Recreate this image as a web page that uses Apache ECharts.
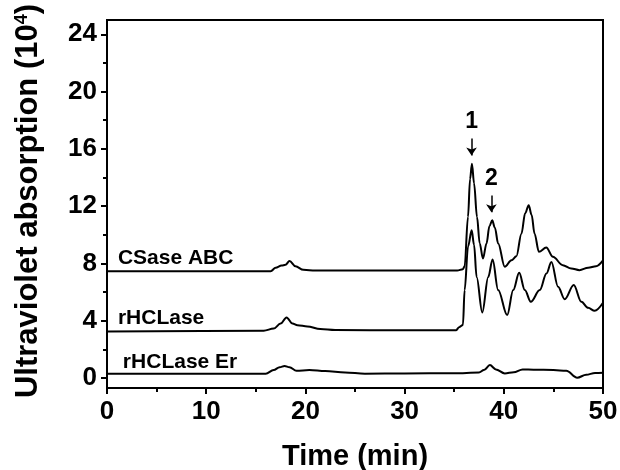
<!DOCTYPE html>
<html>
<head>
<meta charset="utf-8">
<title>Ultraviolet absorption</title>
<script src="https://cdn.jsdelivr.net/npm/echarts@6/dist/echarts.min.js"></script>
<style>
  html, body { margin: 0; padding: 0; background: #fff; }
  #chart { width: 620px; height: 470px; }
</style>
</head>
<body>
<div id="chart"></div>
<script>
// time axis (min) and absorption (10^4) for each trace
const csaseTime = [0, 16.5, 17.0, 17.6, 18.0, 18.4, 19.0, 19.8, 21, 30, 35.3, 35.88, 36.05, 36.39, 36.6, 36.79, 37.0, 37.3, 37.57, 37.9, 38.26, 38.55, 38.83, 39.1, 39.43, 40.1, 40.77, 41.27, 41.78, 42.15, 42.51, 42.8, 43.1, 43.54, 44.28, 44.95, 45.95, 46.8, 47.63, 48.5, 49.3, 50]
const csaseValues = [7.45, 7.45, 7.7, 7.85, 7.9, 8.17, 7.8, 7.55, 7.5, 7.5, 7.5, 7.6, 7.8, 11.24, 13.9, 14.96, 13.6, 11.24, 9.4, 8.34, 9.4, 10.6, 11.01, 10.5, 9.4, 7.76, 8.22, 8.5, 10.08, 11.5, 12.06, 11.4, 10.08, 8.81, 9.11, 8.46, 7.88, 7.65, 7.53, 7.7, 7.81, 8.22]

const rhcTime = [0, 15.8, 16.8, 17.5, 18.1, 18.7, 19.2, 20.2, 21.5, 23, 30, 35.2, 35.5, 35.88, 36.05, 36.4, 36.76, 37.0, 37.26, 37.83, 38.43, 38.87, 39.43, 40.34, 40.95, 41.55, 42.12, 42.72, 43.63, 44.3, 44.8, 45.47, 46.14, 47.05, 47.82, 48.5, 49.16, 50]
const rhcValues = [3.25, 3.3, 3.45, 3.8, 4.23, 3.8, 3.68, 3.6, 3.42, 3.35, 3.33, 3.34, 3.55, 3.7, 6.14, 9.2, 10.31, 9.3, 7.06, 4.57, 7.06, 8.27, 6.14, 4.39, 6.14, 7.34, 6.14, 5.32, 6.14, 7.3, 8.1, 6.37, 5.5, 6.49, 5.32, 4.9, 4.69, 5.25]

const erTime = [0, 16.0, 16.8, 17.4, 17.9, 18.4, 19.1, 20.4, 22, 24, 26, 30, 35, 37.5, 38.0, 38.6, 39.2, 40.1, 41.0, 41.9, 43, 45, 46.3, 47.4, 48.3, 49.2, 50]
const erValues = [0.3, 0.3, 0.55, 0.75, 0.84, 0.75, 0.5, 0.56, 0.48, 0.38, 0.3, 0.32, 0.33, 0.38, 0.55, 0.9, 0.6, 0.32, 0.4, 0.6, 0.58, 0.56, 0.5, 0.02, 0.22, 0.35, 0.37]

const seriesNames = ['CSase ABC', 'rHCLase', 'rHCLase Er']
// where each trace name sits: [time, absorption]
const nameSpots = [[1.1, 8.35], [1.1, 4.2], [1.6, 1.1]]

const yTicks = [0, 4, 8, 12, 16, 20, 24]
const yMinorTicks = [2, 6, 10, 14, 18, 22]

// peak markers: label, time, arrow top, arrow tip
const peakLabels = ['1', '2']
const peakTimes = [36.75, 38.75]
const arrowTops = [16.72, 12.75]
const arrowTips = [15.54, 11.57]

const FONT = 'Liberation Sans, Arial, sans-serif'

const pairs = (xs, ys) => xs.map((x, i) => [x, ys[i]])

const chart = echarts.init(document.getElementById('chart'), null, { renderer: 'canvas' })

const traceSeries = [
  pairs(csaseTime, csaseValues),
  pairs(rhcTime, rhcValues),
  pairs(erTime, erValues)
].map((data, i) => ({
  name: seriesNames[i],
  type: 'line',
  data,
  showSymbol: false,
  smooth: 0.35,
  smoothMonotone: 'x',
  lineStyle: { color: '#000', width: 2 },
  silent: true,
  markPoint: {
    symbolSize: 0,
    silent: true,
    data: [{
      coord: nameSpots[i],
      label: {
        show: true,
        formatter: seriesNames[i],
        position: 'inside',
        align: 'left',
        verticalAlign: 'middle',
        color: '#000',
        fontFamily: FONT,
        fontWeight: 'bold',
        fontSize: 21
      }
    }]
  }
}))

// arrows over peaks 1 and 2
traceSeries[0].markLine = {
  silent: true,
  symbol: ['none', 'arrow'],
  symbolSize: 8,
  lineStyle: { color: '#000', width: 1.5, type: 'solid' },
  label: {
    show: true,
    position: 'start',
    distance: 5,
    color: '#000',
    fontFamily: FONT,
    fontWeight: 'bold',
    fontSize: 23
  },
  data: peakLabels.map((txt, i) => [
    { coord: [peakTimes[i], arrowTops[i]], label: { formatter: txt } },
    { coord: [peakTimes[i], arrowTips[i]] }
  ])
}

const option = {
  animation: false,
  grid: {
    left: 107,
    right: 17,
    top: 20,
    bottom: 82,
    outerBoundsMode: 'none',
    show: true,
    borderColor: '#000',
    borderWidth: 2,
    backgroundColor: 'transparent'
  },
  xAxis: {
    type: 'value',
    min: 0,
    max: 50,
    interval: 10,
    name: 'Time (min)',
    nameLocation: 'middle',
    nameGap: 54,
    nameTextStyle: { color: '#000', fontFamily: FONT, fontWeight: 'bold', fontSize: 29 },
    axisLine: { onZero: false, lineStyle: { color: '#000', width: 2 } },
    axisTick: { inside: false, length: 6, lineStyle: { color: '#000', width: 2 } },
    minorTick: { show: true, splitNumber: 2, length: 4, lineStyle: { color: '#000', width: 2 } },
    axisLabel: { color: '#000', fontFamily: FONT, fontWeight: 'bold', fontSize: 26, margin: 11 },
    splitLine: { show: false },
    minorSplitLine: { show: false }
  },
  yAxis: [{
    type: 'value',
    min: -0.7,
    max: 25,
    name: '{n|Ultraviolet absorption (10}{s|4}{n|)}',
    nameLocation: 'middle',
    nameRotate: 90,
    nameGap: 63,
    nameTextStyle: {
      padding: [0, 0, 0, 6],
      rich: {
        n: { color: '#000', fontFamily: FONT, fontWeight: 'bold', fontSize: 31 },
        s: { color: '#000', fontFamily: FONT, fontWeight: 'bold', fontSize: 18, verticalAlign: 'top', padding: [0, 0, 12, 0] }
      }
    },
    axisLine: { lineStyle: { color: '#000', width: 2 } },
    axisTick: { inside: false, length: 6, customValues: yTicks, lineStyle: { color: '#000', width: 2 } },
    axisLabel: { customValues: yTicks, color: '#000', fontFamily: FONT, fontWeight: 'bold', fontSize: 26, margin: 10 },
    splitLine: { show: false }
  }, {
    // second left axis only for the short in-between ticks
    type: 'value',
    position: 'left',
    min: -0.7,
    max: 25,
    axisLine: { show: false },
    axisTick: { inside: false, length: 4, customValues: yMinorTicks, lineStyle: { color: '#000', width: 2 } },
    axisLabel: { show: false },
    splitLine: { show: false }
  }],
  series: traceSeries
}

chart.setOption(option)
</script>
</body>
</html>
